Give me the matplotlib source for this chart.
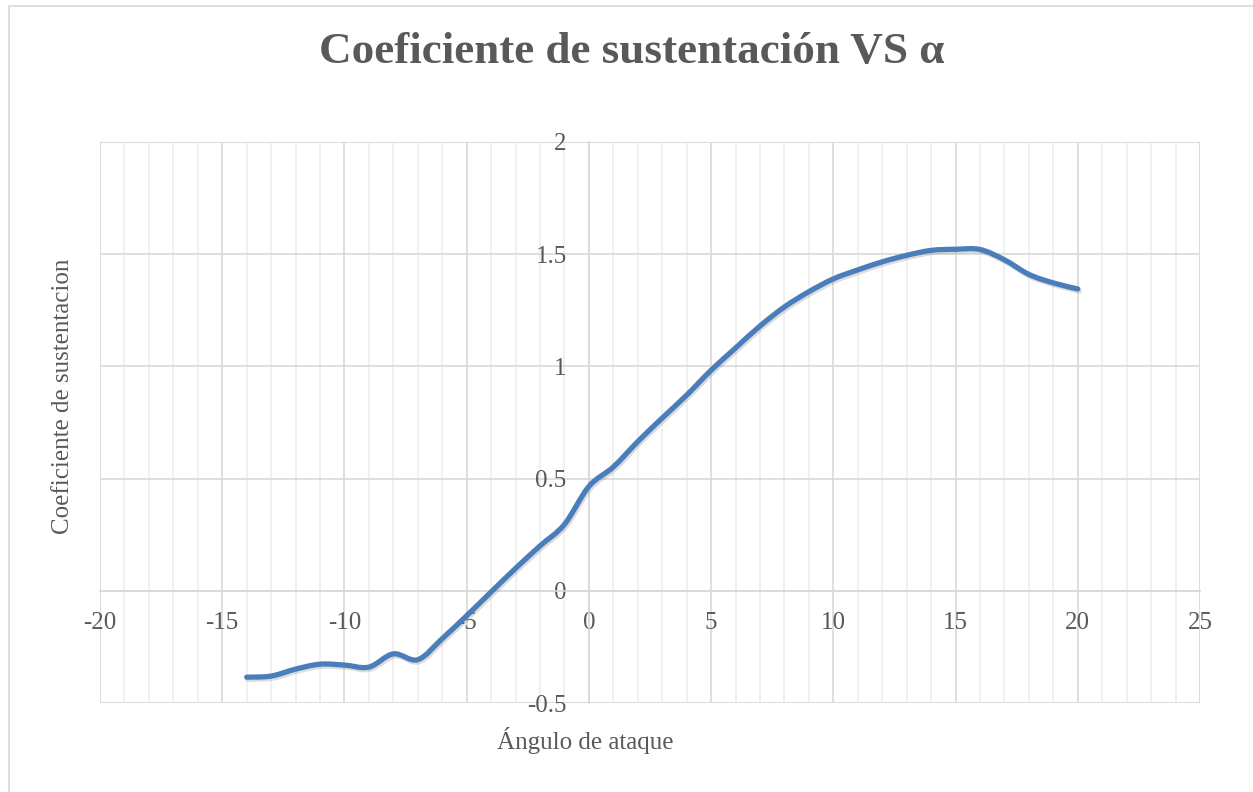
import numpy as np
import matplotlib
matplotlib.use("Agg")
import matplotlib.pyplot as plt
from matplotlib.path import Path
from matplotlib.patches import PathPatch, Rectangle
from matplotlib.ticker import MultipleLocator
import matplotlib.patheffects as pe

# Angle of attack (deg) and lift coefficient
alpha = [-14, -13, -12, -11, -10, -9, -8, -7, -6, -5, -4, -3, -2, -1, 0,
         1, 2, 3, 4, 5, 6, 7, 8, 9, 10, 11, 12, 13, 14, 15, 16, 17, 18, 19, 20]
cl = [-0.385, -0.380, -0.349, -0.327, -0.331, -0.340, -0.281, -0.307, -0.213,
      -0.111, -0.005, 0.100, 0.200, 0.296, 0.465,
      0.552, 0.665, 0.770, 0.872, 0.983, 1.082, 1.180, 1.265, 1.333, 1.390,
      1.430, 1.466, 1.495, 1.517, 1.522, 1.521, 1.475, 1.410, 1.372, 1.345]

x_ticks = [-20, -15, -10, -5, 0, 5, 10, 15, 20, 25]
y_ticks = [-0.5, 0, 0.5, 1, 1.5, 2]

title = "Coeficiente de sustentación VS α"
xlabel = "Ángulo de ataque"
ylabel = "Coeficiente de sustentacion"

FONT = ["Liberation Serif", "DejaVu Serif"]
TXT = "#595959"
GRID_MAJ = "#d9d9d9"
GRID_MIN = "#eeeeee"
LINE = "#4a7ebb"

plt.rcParams["font.family"] = FONT

W, H = 1253, 792
fig = plt.figure(figsize=(W / 100, H / 100), dpi=100)
fig.patch.set_facecolor("white")

# outer chart frame
fig.add_artist(Rectangle((8.5 / W, -0.05), 1.2, (H - 5.5) / H + 0.05,
                         transform=fig.transFigure, fill=False,
                         edgecolor=GRID_MAJ, lw=1.2))

left, right = 100 / W, 1200 / W
bottom, top = (H - 703) / H, (H - 142) / H
ax = fig.add_axes([left, bottom, right - left, top - bottom])

ax.set_xlim(-20, 25)
ax.set_ylim(-0.5, 2)

# gridlines
ax.xaxis.set_major_locator(MultipleLocator(5))
ax.xaxis.set_minor_locator(MultipleLocator(1))
ax.yaxis.set_major_locator(MultipleLocator(0.5))
ax.grid(which="minor", axis="x", color=GRID_MIN, lw=1.2)
ax.grid(which="major", axis="both", color=GRID_MAJ, lw=1.2)
ax.set_axisbelow(True)

# axes cross at the origin
for s in ("top", "right"):
    ax.spines[s].set_visible(False)
ax.spines["left"].set_position(("data", 0))
ax.spines["bottom"].set_position(("data", 0))
for s in ("left", "bottom"):
    ax.spines[s].set_color(GRID_MAJ)
    ax.spines[s].set_linewidth(1.2)

# plot-area frame
ax.add_patch(Rectangle((0, 0), 1, 1, transform=ax.transAxes, fill=False,
                       edgecolor=GRID_MAJ, lw=1.2, zorder=0.5))

ax.set_xticks(x_ticks)
ax.set_yticks(y_ticks)
ax.set_xticklabels([f"{v:g}" for v in x_ticks])
ax.set_yticklabels([f"{v:g}" for v in y_ticks])
ax.tick_params(which="both", length=0)
ax.tick_params(axis="x", pad=15, labelsize=18, labelcolor=TXT)
ax.tick_params(axis="y", pad=16, labelsize=18, labelcolor=TXT)

# smoothed curve (Catmull-Rom -> cubic Bezier segments)
P = np.column_stack([alpha, cl]).astype(float)
Pp = np.vstack([P[0], P, P[-1]])
verts = [tuple(P[0])]
codes = [Path.MOVETO]
for i in range(1, len(Pp) - 2):
    p0, p1, p2, p3 = Pp[i - 1], Pp[i], Pp[i + 1], Pp[i + 2]
    c1 = p1 + (p2 - p0) / 6.0
    c2 = p2 - (p3 - p1) / 6.0
    verts += [tuple(c1), tuple(c2), tuple(p2)]
    codes += [Path.CURVE4] * 3
curve = PathPatch(Path(verts, codes), fill=False, edgecolor=LINE, lw=3.8,
                  capstyle="round", joinstyle="round", zorder=3)
curve.set_path_effects([
    pe.SimpleLineShadow(offset=(1.0, -1.5), shadow_color="#8c8c8c", alpha=0.3),
    pe.Normal(),
])
ax.add_patch(curve)

fig.text(632 / W, 1 - 52 / H, title, ha="center", va="center",
         fontsize=32.5, fontweight="bold", color=TXT)
fig.text(585 / W, 1 - 741 / H, xlabel, ha="center", va="center",
         fontsize=18, color=TXT)
fig.text(63 / W, 1 - 396 / H, ylabel, ha="center", va="center",
         rotation=90, fontsize=18, color=TXT)

fig.savefig("out.png", dpi=100, facecolor="white")
